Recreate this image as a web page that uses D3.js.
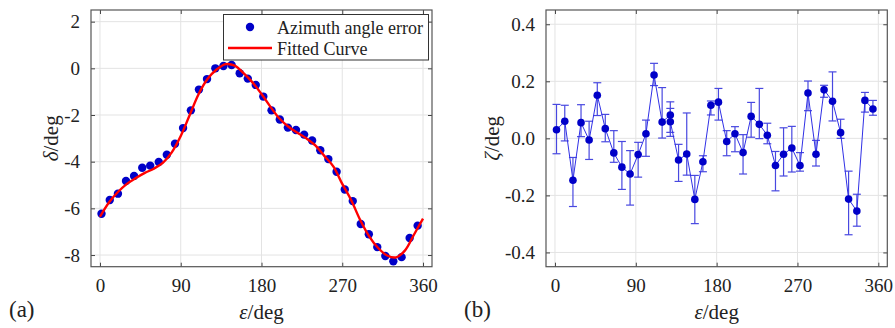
<!DOCTYPE html>
<html>
<head>
<meta charset="utf-8">
<script src="https://cdn.jsdelivr.net/npm/d3@7"></script>
<style>
  body { margin: 0; background: #fff; }
  svg text { font-family: "Liberation Serif", "Times New Roman", serif; }
</style>
</head>
<body>
<svg id="chart" width="895" height="328"></svg>
<script>
// sample positions (deg), shared by both panels
const epsilon = [1.7, 10.9, 20, 29, 38, 47.1, 56, 65.5, 74.5, 83.6, 92.6, 101.3, 110.3, 119.3, 128.6, 137.6, 146.7, 155.7, 164.7, 173.6,
  182, 191.2, 200.4, 209.4, 218.4, 227.5, 236.4, 245.5, 254.5, 263.7, 272.8, 281.7, 290.6, 299.6, 309, 318, 326.9, 336.1, 345.1, 354];

// (a) azimuth angle error
const delta = [-6.23, -5.64, -5.37, -4.83, -4.61, -4.26, -4.17, -4.01, -3.70, -3.23, -2.56, -1.80, -0.91, -0.46, 0.0, 0.10, 0.14, -0.21, -0.44, -0.71,
  -1.21, -1.80, -2.19, -2.54, -2.64, -2.84, -3.09, -3.51, -3.89, -4.43, -5.19, -5.69, -6.67, -7.11, -7.66, -8.04, -8.27, -8.09, -7.27, -6.74];

// fitted curve
const fitX = [0, 10, 20, 30, 40, 50, 60, 70, 80, 90, 100, 110, 120, 130, 140, 150, 160, 170, 180,
  190, 200, 210, 220, 230, 240, 250, 260, 270, 280, 290, 300, 310, 320, 330, 340, 350, 360];
const fitY = [-6.36, -5.75, -5.3, -4.95, -4.7, -4.48, -4.3, -4.05, -3.6, -2.9, -2.0, -1.1, -0.45, -0.05, 0.18, 0.12, -0.2, -0.6, -1.1,
  -1.65, -2.15, -2.5, -2.76, -3.0, -3.3, -3.75, -4.2, -4.95, -5.65, -6.5, -7.2, -7.7, -8.02, -8.1, -7.8, -7.12, -6.44];

// (b) residuals with error bars (two samples at 128 deg)
const zetaX = [1.7, 10.9, 20, 29, 38, 47.1, 56, 65.5, 74.5, 83.6, 92.6, 101.3, 110.3, 119.3, 128.4, 128.4, 137.6, 146.7, 155.7, 164.7, 173.6,
  182, 191.2, 200.4, 209.4, 218.4, 227.5, 236.4, 245.5, 254.5, 263.7, 272.8, 281.7, 290.6, 299.6, 309, 318, 326.9, 336.1, 345.1, 354];
const zeta = [0.030, 0.060, -0.147, 0.055, -0.006, 0.151, 0.034, -0.051, -0.101, -0.125, -0.057, 0.016, 0.222, 0.057, 0.082, 0.058, -0.076, -0.055, -0.214, -0.082, 0.116,
  0.127, -0.011, 0.016, -0.050, 0.077, 0.049, 0.011, -0.095, -0.056, -0.034, -0.095, 0.159, -0.056, 0.170, 0.130, 0.020, -0.213, -0.255, 0.133, 0.103];
const zetaHi = [0.119, 0.116, -0.067, 0.118, 0.060, 0.195, 0.084, 0.027, -0.011, -0.043, -0.014, 0.064, 0.263, 0.178, 0.128, 0.105, -0.021, 0.089, -0.130, -0.061, 0.131,
  0.175, 0.027, 0.041, 0.013, 0.126, 0.175, 0.053, -0.046, 0.037, 0.042, -0.050, 0.201, -0.007, 0.186, 0.233, 0.067, -0.115, -0.196, 0.161, 0.133];
const zetaLo = [-0.054, -0.009, -0.239, 0.006, -0.074, 0.080, -0.012, -0.084, -0.179, -0.234, -0.136, -0.063, 0.185, 0.001, 0.021, 0.007, -0.151, -0.129, -0.299, -0.117, 0.082,
  0.064, -0.061, -0.047, -0.125, 0.004, -0.001, -0.019, -0.184, -0.132, -0.118, -0.115, 0.097, -0.097, 0.144, 0.061, 0.0, -0.338, -0.308, 0.092, 0.081];

const xTicks = [0, 90, 180, 270, 360];
const yTicksA = [2, 0, -2, -4, -6, -8];
const yTicksB = [0.4, 0.2, 0, -0.2, -0.4];

const svg = d3.select("#chart");
const plotTop = 10, plotBottom = 266.7;

// matlab prints a plain hyphen for negatives
const hyphen = f => d => f(d).replace("\u2212", "-");

function panel(left, right, yDomain, yTicks, fmt) {
  const x = d3.scaleLinear().domain([-10, 370]).range([left, right]);
  const y = d3.scaleLinear().domain(yDomain).range([plotBottom, plotTop]);
  const g = svg.append("g");

  // grid
  g.selectAll(".gx").data(xTicks).enter().append("line")
    .attr("x1", d => x(d)).attr("x2", d => x(d))
    .attr("y1", plotTop).attr("y2", plotBottom)
    .attr("stroke", "#e3e3e3").attr("stroke-width", 1);
  g.selectAll(".gy").data(yTicks).enter().append("line")
    .attr("x1", left).attr("x2", right)
    .attr("y1", d => y(d)).attr("y2", d => y(d))
    .attr("stroke", "#e3e3e3").attr("stroke-width", 1);

  // axes, ticks pointing inward
  const ax = d3.axisBottom(x).tickValues(xTicks).tickSizeInner(-4).tickSizeOuter(0).tickPadding(12);
  const ay = d3.axisLeft(y).tickValues(yTicks).tickSizeInner(-4).tickSizeOuter(0).tickPadding(11).tickFormat(hyphen(fmt));
  g.append("g").attr("transform", `translate(0,${plotBottom})`).call(ax);
  g.append("g").attr("transform", `translate(${left},0)`).call(ay);
  g.append("g").attr("transform", `translate(0,${plotTop})`)
    .call(d3.axisTop(x).tickValues(xTicks).tickSizeInner(-4).tickSizeOuter(0).tickFormat(""));
  g.append("g").attr("transform", `translate(${right},0)`)
    .call(d3.axisRight(y).tickValues(yTicks).tickSizeInner(-4).tickSizeOuter(0).tickFormat(""));
  g.selectAll(".domain").remove();
  g.selectAll(".tick line").attr("stroke", "#444");
  g.selectAll(".tick text").style("font-size", "19px").attr("fill", "#222")
    .style("font-family", "'Liberation Serif', serif");

  g.append("rect").attr("x", left).attr("y", plotTop)
    .attr("width", right - left).attr("height", plotBottom - plotTop)
    .attr("fill", "none").attr("stroke", "#555").attr("stroke-width", 1.2);
  return { x, y, g };
}

// ---- panel (a)
const A = panel(91, 432, [-8.5, 2.5], yTicksA, d3.format("d"));
const fitLine = d3.line().x((d, i) => A.x(fitX[i])).y(d => A.y(d)).curve(d3.curveCatmullRom);
A.g.selectAll(".pa").data(delta).enter().append("circle")
  .attr("cx", (d, i) => A.x(epsilon[i])).attr("cy", d => A.y(d))
  .attr("r", 4.2).attr("fill", "#0000c8");
A.g.append("path").datum(fitY).attr("d", fitLine)
  .attr("fill", "none").attr("stroke", "#ff0000").attr("stroke-width", 2.4);

// legend
const lg = A.g.append("g");
lg.append("rect").attr("x", 223.5).attr("y", 14.5).attr("width", 205).attr("height", 45.5)
  .attr("fill", "#fff").attr("stroke", "#333").attr("stroke-width", 1);
lg.append("circle").attr("cx", 250).attr("cy", 27).attr("r", 4.2).attr("fill", "#0000c8");
lg.append("line").attr("x1", 228).attr("x2", 272).attr("y1", 48).attr("y2", 48)
  .attr("stroke", "#ff0000").attr("stroke-width", 2.4);
lg.append("text").attr("x", 277).attr("y", 33.5).attr("font-size", 18).attr("fill", "#222").text("Azimuth angle error");
lg.append("text").attr("x", 277).attr("y", 54.5).attr("font-size", 18).attr("fill", "#222").text("Fitted Curve");

// ---- panel (b)
const B = panel(546, 887.3, [-0.45, 0.45], yTicksB, d3.format(".1f"));
const bars = B.g.append("g").attr("stroke", "#4848e0").attr("stroke-width", 1.2);
zeta.forEach((v, i) => {
  const cx = B.x(zetaX[i]);
  bars.append("line").attr("x1", cx).attr("x2", cx).attr("y1", B.y(zetaLo[i])).attr("y2", B.y(zetaHi[i]));
  bars.append("line").attr("x1", cx - 4).attr("x2", cx + 4).attr("y1", B.y(zetaLo[i])).attr("y2", B.y(zetaLo[i]));
  bars.append("line").attr("x1", cx - 4).attr("x2", cx + 4).attr("y1", B.y(zetaHi[i])).attr("y2", B.y(zetaHi[i]));
});
const zLine = d3.line().x((d, i) => B.x(zetaX[i])).y(d => B.y(d));
B.g.append("path").datum(zeta).attr("d", zLine)
  .attr("fill", "none").attr("stroke", "#3030e6").attr("stroke-width", 1);
B.g.selectAll(".pb").data(zeta).enter().append("circle")
  .attr("cx", (d, i) => B.x(zetaX[i])).attr("cy", d => B.y(d))
  .attr("r", 3.8).attr("fill", "#0000c8");

// axis labels
function label(x, y, rot, sym) {
  const t = svg.append("text").attr("font-size", 21).attr("fill", "#222")
    .attr("text-anchor", "middle")
    .attr("transform", `translate(${x},${y}) rotate(${rot})`);
  t.append("tspan").attr("font-style", "italic").text(sym);
  t.append("tspan").text("/deg");
  return t;
}
label(261.5, 319, 0, "ε");
label(716.7, 319, 0, "ε");
label(58, 138.3, -90, "δ");
label(499, 138.3, -90, "ζ");

svg.append("text").attr("x", 9).attr("y", 317).attr("font-size", 23).attr("fill", "#222").text("(a)");
svg.append("text").attr("x", 464).attr("y", 317).attr("font-size", 23).attr("fill", "#222").text("(b)");
</script>
</body>
</html>
